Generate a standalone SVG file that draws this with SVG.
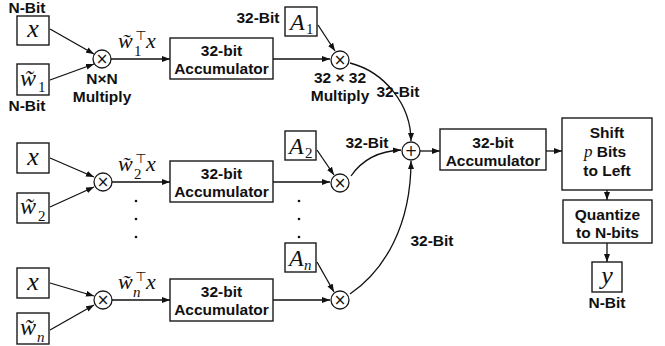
<svg xmlns="http://www.w3.org/2000/svg" width="665" height="346" viewBox="0 0 665 346">
<defs>
<marker id="ah" markerWidth="8" markerHeight="6" refX="8" refY="3" orient="auto" markerUnits="userSpaceOnUse"><path d="M0,0 L8,3 L0,6 z" fill="#111"/></marker>
</defs>
<style>
.box{fill:#fff;stroke:#1a1a1a;stroke-width:1.4}
.op{fill:#fff;stroke:#1a1a1a;stroke-width:1.3}
.ln{fill:none;stroke:#111;stroke-width:1.3;marker-end:url(#ah)}
.lb{font-family:"Liberation Sans",Arial,sans-serif;font-weight:bold;font-size:15.5px;fill:#111;text-anchor:middle}
.m{font-family:"Liberation Serif","Times New Roman",serif;font-style:italic;font-weight:normal;fill:#111}
.r{font-family:"Liberation Serif","Times New Roman",serif;fill:#111}
.sym{font-family:"DejaVu Sans",sans-serif;fill:#111;text-anchor:middle}
.dot{fill:#111}
</style>
<rect width="665" height="346" fill="#fff"/>

<g id="connectors">
<path class="ln" d="M50,29 L94,54"/>
<path class="ln" d="M50,80 L94,64"/>
<path class="ln" d="M111,59 L170,59"/>
<path class="ln" d="M273,59 L330,59"/>
<path class="ln" d="M318,25 L335,51"/>
<path class="ln" d="M350,63 C385,72 411,105 411,141"/>
<path class="ln" d="M50,158 L94,177"/>
<path class="ln" d="M50,207 L94,187"/>
<path class="ln" d="M112,182 L170,182"/>
<path class="ln" d="M273,182 L330,182"/>
<path class="ln" d="M317,150 L334,175"/>
<path class="ln" d="M351,176 C362,160 378,151 401,150"/>
<path class="ln" d="M50,283 L94,296"/>
<path class="ln" d="M50,330 L94,305"/>
<path class="ln" d="M112,300 L170,300"/>
<path class="ln" d="M273,300 L330,300"/>
<path class="ln" d="M317,262 L334,292"/>
<path class="ln" d="M350,294 C385,270 411,225 411,161"/>
<path class="ln" d="M420,151 L440,151"/>
<path class="ln" d="M546,151 L562,151"/>
<path class="ln" d="M607,190 L607,200"/>
<path class="ln" d="M607,243 L607,262"/>
</g>

<g id="labels">
<text class="lb" x="27" y="13">N-Bit</text>
<text class="lb" x="27" y="111">N-Bit</text>
<text class="lb" x="102" y="84">N×N</text>
<text class="lb" x="102" y="102">Multiply</text>
<text class="lb" x="258" y="23">32-Bit</text>
<text class="lb" x="340" y="83">32 × 32</text>
<text class="lb" x="340" y="101">Multiply</text>
<text class="lb" x="398" y="97">32-Bit</text>
<text class="lb" x="367" y="148">32-Bit</text>
<text class="lb" x="432" y="246">32-Bit</text>
<text class="lb" x="607" y="308">N-Bit</text>
<g id="wx1">
<text class="m" x="118" y="48" font-size="22">w̃</text>
<text class="r" x="134" y="56" font-size="15">1</text>
<text class="sym" x="141" y="40" font-size="13">⊤</text>
<text class="m" x="146" y="48" font-size="22">x</text>
</g>
<g id="wx2">
<text class="m" x="118" y="171" font-size="22">w̃</text>
<text class="r" x="134" y="179" font-size="15">2</text>
<text class="sym" x="141" y="163" font-size="13">⊤</text>
<text class="m" x="146" y="171" font-size="22">x</text>
</g>
<g id="wxn">
<text class="m" x="118" y="289" font-size="22">w̃</text>
<text class="m" x="133" y="297" font-size="15">n</text>
<text class="sym" x="141" y="281" font-size="13">⊤</text>
<text class="m" x="146" y="289" font-size="22">x</text>
</g>
</g>

<g id="dots">
<circle class="dot" cx="136" cy="201" r="1.3"/>
<circle class="dot" cx="136" cy="219" r="1.3"/>
<circle class="dot" cx="136" cy="237" r="1.3"/>
<circle class="dot" cx="299" cy="201" r="1.3"/>
<circle class="dot" cx="299" cy="219" r="1.3"/>
<circle class="dot" cx="299" cy="237" r="1.3"/>
</g>

<g id="x1"><rect class="box" x="17" y="16" width="32" height="29"/><text class="m" x="33" y="37" font-size="26" text-anchor="middle">x</text></g>
<g id="w1"><rect class="box" x="17" y="64" width="32" height="31"/><text class="m" x="20" y="86" font-size="24">w̃</text><text class="r" x="38" y="92" font-size="15">1</text></g>
<g id="mul1"><circle class="op" cx="102" cy="59" r="9"/><text class="sym" x="102" y="64" font-size="15">×</text></g>
<g id="acc1"><rect class="box" x="170" y="38" width="103" height="41"/><text class="lb" x="221.5" y="56">32-bit</text><text class="lb" x="221.5" y="74">Accumulator</text></g>
<g id="A1"><rect class="box" x="285" y="7" width="32" height="29"/><text class="m" x="290" y="30" font-size="24">A</text><text class="r" x="306" y="34" font-size="15">1</text></g>
<g id="mulA1"><circle class="op" cx="340" cy="60" r="9"/><text class="sym" x="340" y="65" font-size="15">×</text></g>

<g id="x2"><rect class="box" x="17" y="143" width="32" height="30"/><text class="m" x="33" y="165" font-size="26" text-anchor="middle">x</text></g>
<g id="w2"><rect class="box" x="17" y="193" width="32" height="30"/><text class="m" x="20" y="214" font-size="24">w̃</text><text class="r" x="38" y="221" font-size="15">2</text></g>
<g id="mul2"><circle class="op" cx="103" cy="182" r="9"/><text class="sym" x="103" y="187" font-size="15">×</text></g>
<g id="acc2"><rect class="box" x="170" y="161" width="103" height="41"/><text class="lb" x="221.5" y="179">32-bit</text><text class="lb" x="221.5" y="197">Accumulator</text></g>
<g id="A2"><rect class="box" x="285" y="131" width="31" height="29"/><text class="m" x="289" y="154" font-size="24">A</text><text class="r" x="305" y="158" font-size="15">2</text></g>
<g id="mulA2"><circle class="op" cx="340" cy="183" r="9"/><text class="sym" x="340" y="188" font-size="15">×</text></g>

<g id="xn"><rect class="box" x="17" y="268" width="32" height="30"/><text class="m" x="33" y="290" font-size="26" text-anchor="middle">x</text></g>
<g id="wn"><rect class="box" x="17" y="313" width="32" height="31"/><text class="m" x="20" y="335" font-size="24">w̃</text><text class="m" x="37" y="342" font-size="15">n</text></g>
<g id="muln"><circle class="op" cx="103" cy="300" r="9"/><text class="sym" x="103" y="305" font-size="15">×</text></g>
<g id="accn"><rect class="box" x="170" y="279" width="103" height="42"/><text class="lb" x="221.5" y="297">32-bit</text><text class="lb" x="221.5" y="315">Accumulator</text></g>
<g id="An"><rect class="box" x="285" y="243" width="31" height="29"/><text class="m" x="289" y="266" font-size="24">A</text><text class="m" x="304" y="270" font-size="15">n</text></g>
<g id="mulAn"><circle class="op" cx="340" cy="300" r="9"/><text class="sym" x="340" y="305" font-size="15">×</text></g>

<g id="sum"><circle class="op" cx="411" cy="151" r="9"/><text class="sym" x="411" y="156" font-size="15">+</text></g>
<g id="accF"><rect class="box" x="440" y="129" width="106" height="41"/><text class="lb" x="493" y="148">32-bit</text><text class="lb" x="493" y="166">Accumulator</text></g>
<g id="shift"><rect class="box" x="562" y="118" width="90" height="72"/><text class="lb" x="607" y="138">Shift</text><text class="lb" x="605" y="157"><tspan class="m" font-size="17">p</tspan> Bits</text><text class="lb" x="607" y="176">to Left</text></g>
<g id="quant"><rect class="box" x="563" y="200" width="89" height="43"/><text class="lb" x="607.5" y="220">Quantize</text><text class="lb" x="607.5" y="238">to N-bits</text></g>
<g id="yout"><rect class="box" x="592" y="262" width="30" height="30"/><text class="m" x="607" y="284" font-size="26" text-anchor="middle">y</text></g>
</svg>
